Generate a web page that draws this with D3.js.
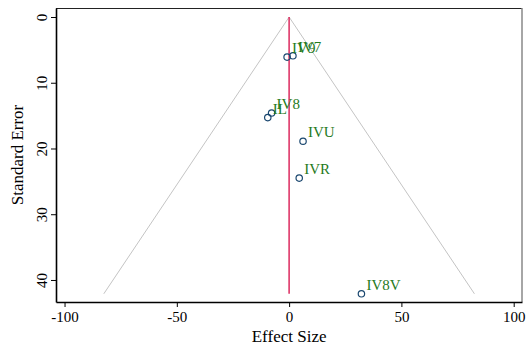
<!DOCTYPE html>
<html lang="en">
<head>
<meta charset="UTF-8">
<title>Funnel plot</title>
<style>
    body { margin: 0; background: #fff; }
    svg text { font-family: "Liberation Serif", "Times New Roman", serif; }
    .lbl { fill: #1f7a1c; font-size: 15px; }
</style>
</head>
<body>
<script src="https://d3js.org/d3.v7.min.js"></script>
<script>
    // study estimates
    const studies = ["IV9", "IV7", "IL", "IV8", "IVU", "IVR", "IV8V"];
    const effect  = [-0.9, 1.7, -9.5, -7.8, 6.2, 4.5, 32.2];
    const stderr  = [6.1, 5.9, 15.3, 14.6, 18.9, 24.5, 42.1];
    const pooled = 0;
    const xTicks = [-100, -50, 0, 50, 100];
    const yTicks = [0, 10, 20, 30, 40];

    const width = 529, height = 352;
    const margin = {top: 8, right: 7, bottom: 50, left: 56};
    const serif = '"Liberation Serif", "Times New Roman", serif';

    const svg = d3.select('body').append('svg')
        .attr('width', width)
        .attr('height', height);

    const x = d3.scaleLinear()
        .domain([-103.8, 103.7])
        .range([margin.left, width - margin.right]);

    const y = d3.scaleLinear()
        .domain([-1.37, 43.35])
        .range([margin.top, height - margin.bottom]);

    const maxSe = d3.max(stderr);

    // funnel limits
    const funnel = [[pooled - 1.96 * maxSe, maxSe], [pooled, 0], [pooled + 1.96 * maxSe, maxSe]];
    svg.append('path')
        .attr('d', d3.line().x(d => x(d[0])).y(d => y(d[1]))(funnel))
        .attr('fill', 'none')
        .attr('stroke', '#c4c4c4')
        .attr('stroke-width', 1);

    // pooled estimate
    svg.append('line')
        .attr('x1', x(pooled)).attr('x2', x(pooled))
        .attr('y1', y(0)).attr('y2', y(maxSe))
        .attr('stroke', '#dc2a5f')
        .attr('stroke-width', 1.5);

    // frame: top and right
    svg.append('line')
        .attr('x1', margin.left).attr('x2', width - margin.right)
        .attr('y1', margin.top + 0.5).attr('y2', margin.top + 0.5)
        .attr('stroke', '#222').attr('stroke-width', 1);
    svg.append('line')
        .attr('x1', width - margin.right).attr('x2', width - margin.right)
        .attr('y1', margin.top).attr('y2', height - margin.bottom)
        .attr('stroke', '#888').attr('stroke-width', 1.5);

    const fmt = d => String(d);

    const xAxis = svg.append('g')
        .attr('transform', `translate(0,${height - margin.bottom})`)
        .call(d3.axisBottom(x).tickValues(xTicks).tickFormat(fmt).tickSize(5).tickPadding(4).tickSizeOuter(0));
    xAxis.select('.domain').attr('stroke-width', 1.6);

    const yAxis = svg.append('g')
        .attr('transform', `translate(${margin.left},0)`)
        .call(d3.axisLeft(y).tickValues(yTicks).tickFormat(fmt).tickSize(5).tickSizeOuter(0));
    yAxis.select('.domain').attr('stroke-width', 1.6);
    yAxis.selectAll('.tick text')
        .attr('text-anchor', 'middle')
        .attr('x', 0).attr('dy', 0)
        .attr('transform', 'translate(-9,0) rotate(-90)');

    svg.selectAll('.tick text')
        .style('font-family', serif)
        .style('font-size', '15px')
        .style('fill', '#000');

    svg.append('text')
        .attr('x', x(0)).attr('y', 342)
        .attr('text-anchor', 'middle')
        .style('font-size', '17px')
        .text('Effect Size');

    svg.append('text')
        .attr('transform', `translate(23,${(margin.top + height - margin.bottom) / 2}) rotate(-90)`)
        .attr('text-anchor', 'middle')
        .style('font-size', '17px')
        .text('Standard Error');

    const pts = studies.map((s, i) => ({name: s, es: effect[i], se: stderr[i]}));

    svg.selectAll('circle.pt')
        .data(pts).enter().append('circle')
        .attr('class', 'pt')
        .attr('cx', d => x(d.es))
        .attr('cy', d => y(d.se))
        .attr('r', 3.2)
        .attr('fill', 'none')
        .attr('stroke', '#1a476f')
        .attr('stroke-width', 1.2);

    svg.selectAll('text.lbl')
        .data(pts).enter().append('text')
        .attr('class', 'lbl')
        .attr('x', d => x(d.es) + 5)
        .attr('y', d => y(d.se) - 4)
        .text(d => d.name);
</script>
</body>
</html>
